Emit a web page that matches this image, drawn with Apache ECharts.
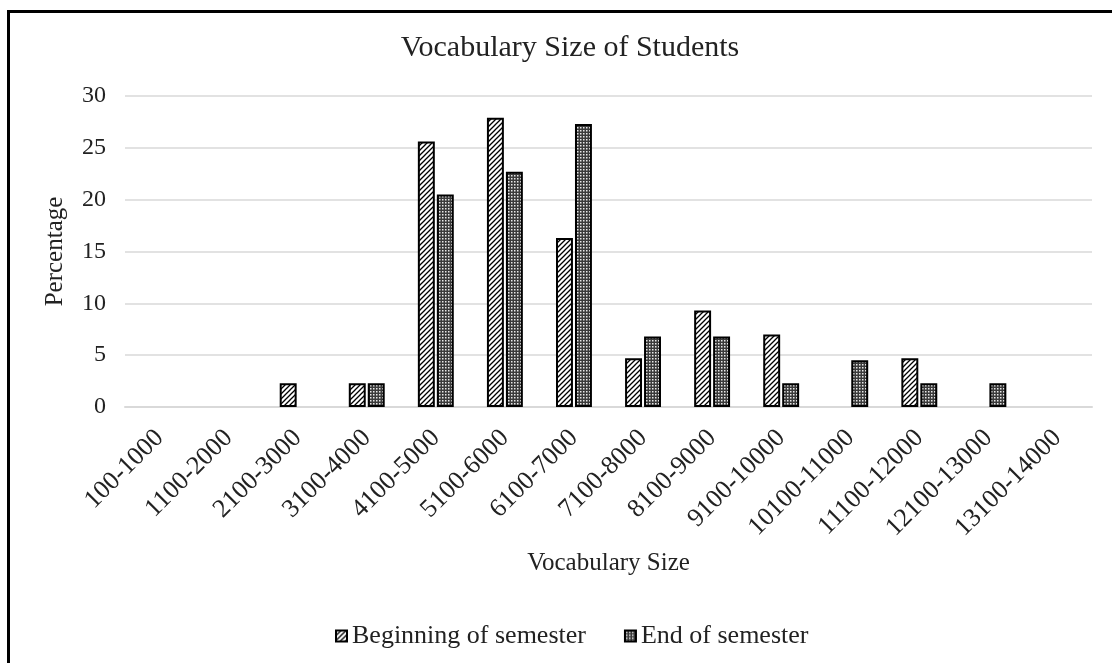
<!DOCTYPE html>
<html>
<head>
<meta charset="utf-8">
<script src="https://cdn.jsdelivr.net/npm/echarts@6/dist/echarts.min.js"></script>
<style>
  html, body { margin: 0; padding: 0; background: #fff; }
  #chart { width: 1112px; height: 663px; }
</style>
</head>
<body>
<div id="chart"></div>
<script>
const categories = [
  '100-1000', '1100-2000', '2100-3000', '3100-4000', '4100-5000', '5100-6000', '6100-7000',
  '7100-8000', '8100-9000', '9100-10000', '10100-11000', '11100-12000', '12100-13000', '13100-14000'
]
const beginning = [0, 0, 2.3, 2.3, 25.6, 27.9, 16.3, 4.7, 9.3, 7.0, 0, 4.7, 0, 0]
const ending = [0, 0, 0, 2.3, 20.5, 22.7, 27.3, 6.8, 6.8, 2.3, 4.5, 2.3, 2.3, 0]
const yTicks = { min: 0, max: 30, interval: 5 }

const FONT = '"Liberation Serif", "DejaVu Serif", serif'

// zero-height bars are not drawn at all in the original
const skipZero = (arr) => arr.map((v) => (v === 0 ? null : v))

// diagonal hatch for the first series
const makeHatch = () => {
  const c = document.createElement('canvas')
  c.width = 5
  c.height = 5
  const ctx = c.getContext('2d')
  ctx.fillStyle = '#fff'
  ctx.fillRect(0, 0, 5, 5)
  ctx.strokeStyle = '#000'
  ctx.lineWidth = 1.3
  ctx.beginPath()
  ctx.moveTo(-1, 6); ctx.lineTo(6, -1)
  ctx.moveTo(-1, 1); ctx.lineTo(1, -1)
  ctx.moveTo(4, 6); ctx.lineTo(6, 4)
  ctx.stroke()
  return c
}

// dotted grid for the second series
const makeDots = () => {
  const c = document.createElement('canvas')
  c.width = 3
  c.height = 3
  const ctx = c.getContext('2d')
  ctx.fillStyle = '#3a3a3a'
  ctx.fillRect(0, 0, 3, 3)
  ctx.fillStyle = '#e8e8e8'
  ctx.fillRect(1, 1, 1.5, 1.5)
  return c
}

const chart = echarts.init(document.getElementById('chart'))

const option = {
  backgroundColor: '#fff',
  animation: false,

  title: {
    text: 'Vocabulary Size of Students',
    left: 565,
    textAlign: 'center',
    top: 28,
    textStyle: {
      fontFamily: FONT,
      fontSize: 30,
      fontWeight: 'normal',
      color: '#222'
    }
  },

  legend: {
    left: 330,
    top: 618,
    itemWidth: 11,
    itemHeight: 11,
    itemGap: 38,
    icon: 'rect',
    textStyle: {
      fontFamily: FONT,
      fontSize: 26,
      color: '#222'
    },
    data: ['Beginning of semester', 'End of semester']
  },

  grid: {
    left: 125,
    right: 20,
    top: 96,
    bottom: 256,
    outerBoundsMode: 'none'
  },

  xAxis: {
    type: 'category',
    data: categories,
    name: 'Vocabulary Size',
    nameLocation: 'middle',
    nameGap: 144,
    nameTextStyle: {
      fontFamily: FONT,
      fontSize: 25,
      color: '#222'
    },
    axisLine: {
      lineStyle: { color: '#d9d9d9', width: 2 }
    },
    axisTick: { show: false },
    axisLabel: {
      rotate: 45,
      interval: 0,
      margin: 27,
      fontFamily: FONT,
      fontSize: 26,
      color: '#222'
    }
  },

  yAxis: {
    type: 'value',
    min: yTicks.min,
    max: yTicks.max,
    interval: yTicks.interval,
    name: 'Percentage',
    nameLocation: 'middle',
    nameGap: 57,
    nameTextStyle: {
      fontFamily: FONT,
      fontSize: 25,
      color: '#222'
    },
    axisLine: { show: false },
    axisTick: { show: false },
    axisLabel: {
      margin: 19,
      fontFamily: FONT,
      fontSize: 24,
      color: '#222'
    },
    splitLine: {
      lineStyle: { color: '#d9d9d9', width: 1.5 }
    }
  },

  graphic: [
    {
      type: 'line',
      shape: { x1: 8.5, y1: 11, x2: 8.5, y2: 663 },
      style: { stroke: '#000', lineWidth: 3 }
    },
    {
      type: 'line',
      shape: { x1: 7, y1: 11.5, x2: 1112, y2: 11.5 },
      style: { stroke: '#000', lineWidth: 3 }
    }
  ],

  series: [
    {
      name: 'Beginning of semester',
      type: 'bar',
      data: skipZero(beginning),
      barGap: '12%',
      barCategoryGap: '48%',
      itemStyle: {
        color: { image: makeHatch(), repeat: 'repeat' },
        borderColor: '#000',
        borderWidth: 2
      }
    },
    {
      name: 'End of semester',
      type: 'bar',
      data: skipZero(ending),
      barGap: '12%',
      barCategoryGap: '48%',
      itemStyle: {
        color: { image: makeDots(), repeat: 'repeat' },
        borderColor: '#000',
        borderWidth: 2
      }
    }
  ]
}

chart.setOption(option)
</script>
</body>
</html>
